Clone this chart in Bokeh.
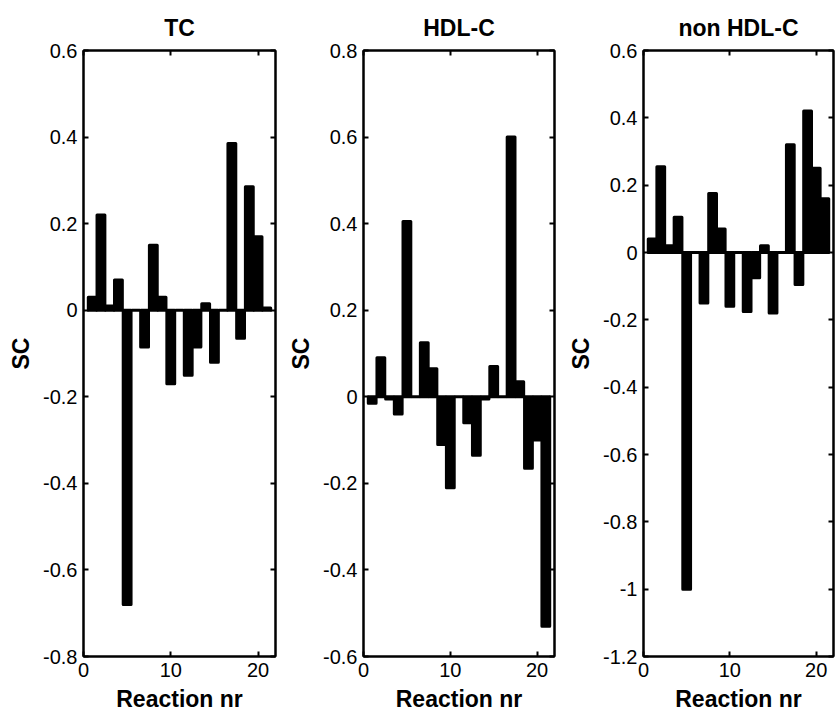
from bokeh.plotting import figure
from bokeh.layouts import row
from bokeh.models import LinearAxis, FixedTicker, Range1d, CustomJSTickFormatter, ColumnDataSource
from bokeh.embed import file_html
from bokeh.resources import INLINE

reaction = list(range(1, 22))

tc = [0.03, 0.22, 0.01, 0.07, -0.68, 0.0, -0.085, 0.15, 0.03, -0.17,
      0.0, -0.15, -0.085, 0.015, -0.12, 0.0, 0.385, -0.065, 0.285, 0.17, 0.005]
hdl = [-0.015, 0.09, -0.005, -0.04, 0.405, 0.0, 0.125, 0.065, -0.11, -0.21,
       0.0, -0.06, -0.135, -0.005, 0.07, 0.0, 0.6, 0.035, -0.165, -0.1, -0.53]
nonhdl = [0.04, 0.255, 0.02, 0.105, -1.0, 0.0, -0.15, 0.175, 0.07, -0.16,
          0.0, -0.175, -0.075, 0.02, -0.18, 0.0, 0.32, -0.095, 0.42, 0.25, 0.16]

titles = ["TC", "HDL-C", "non HDL-C"]
x_ticks = [0, 10, 20]
tc_yticks = [-0.8, -0.6, -0.4, -0.2, 0, 0.2, 0.4, 0.6]
tc_ylabels = ["-0.8", "-0.6", "-0.4", "-0.2", "0", "0.2", "0.4", "0.6"]
hdl_yticks = [-0.6, -0.4, -0.2, 0, 0.2, 0.4, 0.6, 0.8]
hdl_ylabels = ["-0.6", "-0.4", "-0.2", "0", "0.2", "0.4", "0.6", "0.8"]
nonhdl_yticks = [-1.2, -1.0, -0.8, -0.6, -0.4, -0.2, 0, 0.2, 0.4, 0.6]
nonhdl_ylabels = ["-1.2", "-1", "-0.8", "-0.6", "-0.4", "-0.2", "0", "0.2", "0.4", "0.6"]

FONT = "Liberation Sans"


def make_panel(title, values, yticks, ylabels, frame_w, border_right):
    p = figure(frame_width=frame_w, frame_height=606,
               x_range=Range1d(0, 22), y_range=Range1d(yticks[0], yticks[-1]),
               output_backend="svg", toolbar_location=None,
               min_border_left=83, min_border_right=border_right,
               min_border_top=50, min_border_bottom=55,
               background_fill_color="white", border_fill_color="white")
    p.title.text = title
    p.title.align = "center"
    p.title.text_font = FONT
    p.title.text_font_style = "bold"
    p.title.text_font_size = "23px"
    p.title.text_color = "black"
    p.title.standoff = 19
    p.grid.visible = False
    p.outline_line_color = "black"
    p.outline_line_width = 2

    src = ColumnDataSource(dict(x=reaction, top=values))
    p.vbar(x="x", top="top", bottom=0, width=0.9, source=src,
           fill_color="black", line_color="black", line_width=3, line_join="round")

    overrides = {t: l for t, l in zip(yticks, ylabels)}
    for ax in p.xaxis:
        ax.ticker = FixedTicker(ticks=x_ticks)
        ax.axis_label = "Reaction nr"
    for ax in p.yaxis:
        ax.ticker = FixedTicker(ticks=yticks)
        ax.major_label_overrides = overrides
        ax.axis_label = "SC"

    # mirrored axes
    top_ax = LinearAxis(ticker=FixedTicker(ticks=x_ticks),
                        formatter=CustomJSTickFormatter(code="return ''"))
    right_ax = LinearAxis(ticker=FixedTicker(ticks=yticks),
                          formatter=CustomJSTickFormatter(code="return ''"))
    p.add_layout(top_ax, "above")
    p.add_layout(right_ax, "right")

    for ax in list(p.xaxis) + list(p.yaxis):
        ax.axis_line_color = "black"
        ax.axis_line_width = 2
        ax.major_tick_line_color = "black"
        ax.major_tick_line_width = 2
        ax.major_tick_in = 5
        ax.major_tick_out = 0
        ax.minor_tick_line_color = None
        ax.major_label_text_font = FONT
        ax.major_label_text_font_size = "20px"
        ax.major_label_text_color = "black"
        ax.axis_label_text_font = FONT
        ax.axis_label_text_font_style = "bold"
        ax.axis_label_text_font_size = "23px"
        ax.axis_label_text_color = "black"
        ax.major_label_standoff = 6
        ax.axis_label_standoff = 6
    for ax in [top_ax, right_ax]:
        ax.major_label_standoff = 0
        ax.major_label_text_font_size = "1px"
    return p


p1 = make_panel(titles[0], tc, tc_yticks, tc_ylabels, 192, 5)
p2 = make_panel(titles[1], hdl, hdl_yticks, hdl_ylabels, 191, 6)
p3 = make_panel(titles[2], nonhdl, nonhdl_yticks, nonhdl_ylabels, 190, 2)

layout = row(p1, p2, p3, spacing=0)
open("out.html", "w").write(file_html(layout, INLINE))
